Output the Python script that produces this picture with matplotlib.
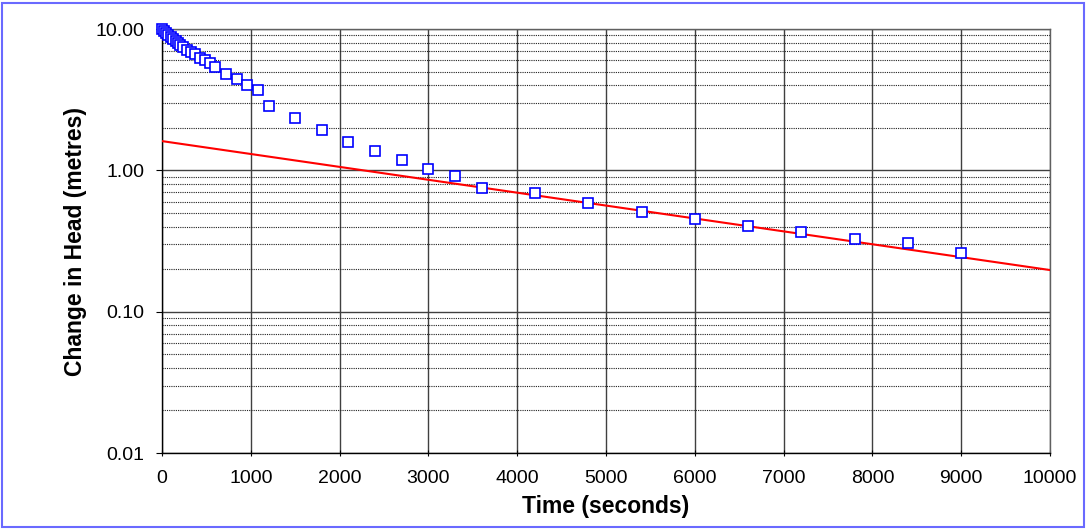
import matplotlib
matplotlib.use("Agg")
import matplotlib.pyplot as plt
from matplotlib.patches import Rectangle
from matplotlib.ticker import FixedLocator, LogLocator, NullFormatter, FormatStrFormatter

# --- data ---
time_s = [0, 20, 45, 70, 100, 125, 155, 180, 205, 240, 285, 325, 370, 430, 485, 540,
          600, 720, 840, 960, 1080, 1200, 1500, 1800, 2100, 2400, 2700, 3000, 3300,
          3600, 4200, 4800, 5400, 6000, 6600, 7200, 7800, 8400, 9000]
head_m = [10.0, 9.68, 9.41, 9.12, 8.83, 8.50, 8.22, 8.00, 7.71, 7.42, 7.10, 6.87, 6.62,
          6.27, 6.04, 5.72, 5.36, 4.83, 4.41, 4.04, 3.68, 2.86, 2.36, 1.92, 1.59, 1.36,
          1.18, 1.03, 0.916, 0.745, 0.687, 0.583, 0.507, 0.45, 0.404, 0.366, 0.328,
          0.304, 0.259]
fit_time = [0, 10000]
fit_head = [1.61, 0.197]

x_ticks = list(range(0, 10001, 1000))
y_ticks = [0.01, 0.1, 1.0, 10.0]

plt.rcParams['font.family'] = ['Liberation Sans', 'DejaVu Sans']

W, H = 1087, 529
fig = plt.figure(figsize=(W / 100, H / 100), dpi=100)
ax = fig.add_axes([162 / W, 1 - 453 / H, (1050 - 162) / W, (453 - 29) / H])

ax.set_yscale('log')
ax.set_xlim(0, 10000)
ax.set_ylim(0.01, 10)

# grid
ax.yaxis.set_major_locator(FixedLocator(y_ticks))
ax.yaxis.set_minor_locator(LogLocator(base=10, subs=range(2, 10)))
ax.yaxis.set_minor_formatter(NullFormatter())
ax.yaxis.set_major_formatter(FormatStrFormatter('%.2f'))
ax.xaxis.set_major_locator(FixedLocator(x_ticks))

ax.grid(True, which='major', axis='both', color='#404040', linewidth=1.0, linestyle='-')
ax.grid(True, which='minor', axis='y', color='#202020', linewidth=0.8, linestyle=(0, (1, 1)))
ax.set_axisbelow(True)

for side in ['top', 'right']:
    ax.spines[side].set_color('#606060')
    ax.spines[side].set_linewidth(1.0)
for side in ['left', 'bottom']:
    ax.spines[side].set_color('black')
    ax.spines[side].set_linewidth(1.0)

ax.tick_params(axis='x', which='major', direction='inout', length=5, width=0.8,
               labelsize=14, pad=9.5, colors='black')
ax.tick_params(axis='y', which='major', direction='out', length=4.5, width=0.8,
               labelsize=14, pad=8, colors='black')
ax.tick_params(axis='y', which='minor', length=0)

# fit line
ax.plot(fit_time, fit_head, color='#ff0000', linewidth=1.5, zorder=3)
# data
ax.plot(time_s, head_m, linestyle='none', marker='s', markersize=7.2,
        markerfacecolor='white', markeredgecolor='#0000ff', markeredgewidth=1.2,
        zorder=4, clip_on=False)

ax.set_xlabel('Time (seconds)', fontsize=16.5, fontweight='bold', labelpad=6)
ax.set_ylabel('Change in Head (metres)', fontsize=16.5, fontweight='bold', labelpad=6)

# figure border
fig.patches.append(Rectangle((2 / W, 2 / H), (W - 5) / W, (H - 5) / H,
                             transform=fig.transFigure, fill=False,
                             edgecolor='#6a6aff', linewidth=1.5))

fig.savefig('out.png', dpi=100)
